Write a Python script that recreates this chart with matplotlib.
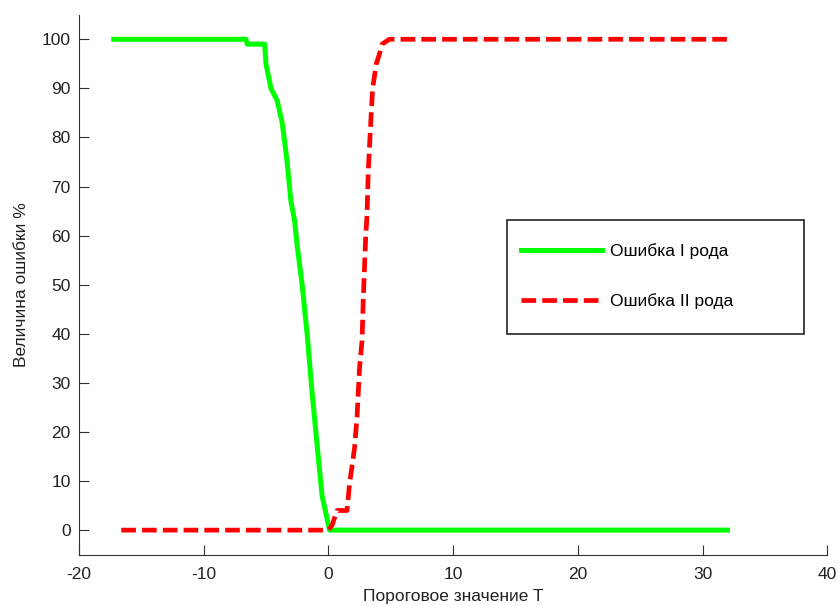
import matplotlib.pyplot as plt
import matplotlib
from matplotlib.patches import Rectangle

matplotlib.rc("font", family=["Liberation Sans", "DejaVu Sans"])
matplotlib.rcParams['axes.unicode_minus'] = False

# Ошибка I рода
x1 = [-17.2, -6.6, -6.5, -5.1, -5.0, -4.6, -4.1, -3.7, -3.3, -3.0, -2.7,
      -2.5, -2.1, -1.7, -1.3, -1.0, -0.5, 0.1, 32]
y1 = [100, 100, 99, 99, 95, 90, 87.5, 83, 75, 67, 63,
      58, 50, 40, 28, 20, 7, 0, 0]

# Ошибка II рода
x2 = [-16.6, 0.0, 0.3, 0.7, 1.5, 1.7, 2.1, 2.3, 2.5, 2.7, 2.8, 3.0,
      3.1, 3.2, 3.4, 3.55, 3.85, 4.1, 4.3, 4.9, 32]
y2 = [0, 0, 1, 4, 4, 9.4, 16.7, 23, 33, 38.5, 47, 60,
      64, 73, 83, 90, 95, 97, 99, 100, 100]

a = 12.5  # размер шрифта
fig = plt.figure(figsize=(8.39, 6.06), dpi=100)
ax = fig.add_axes([0.094, 0.0847, 0.892, 0.891])

ax.plot(x1, y1, color='#00ff00', lw=3.6, label='Ошибка I рода')
ax.plot(x2, y2, color='#ff0000', lw=3.4, ls=(0, (3.1, 1.3)), label='Ошибка II рода')

ax.set_xlim(-20, 40)
ax.set_ylim(-5, 105)
ax.set_xticks(range(-20, 41, 10))
ax.set_yticks(range(0, 101, 10))
ax.spines['top'].set_visible(False)
ax.spines['right'].set_visible(False)
for s in ['left', 'bottom']:
    ax.spines[s].set_color('#333333')
ax.tick_params(direction='in', length=7, color='#333333', labelsize=a, labelcolor='#222222')
ax.tick_params(axis='x', pad=9)
ax.tick_params(axis='y', pad=6)
ax.set_xlabel('Пороговое значение T', size=a, color='#222222', labelpad=5)
ax.set_ylabel('Величина ошибки %', size=a, color='#222222', labelpad=9)

# рамка легенды отдельно, чтобы задать её размер
ax.add_patch(Rectangle((0.572, 0.409), 0.397, 0.211, transform=ax.transAxes,
                       facecolor='white', edgecolor='#222222', lw=1.2, zorder=4))
leg = ax.legend(loc='upper left', bbox_to_anchor=(0.572, 0.603),
                fontsize=a, frameon=False, labelspacing=1.96, borderpad=0.8,
                handlelength=4.7, handletextpad=0.45, borderaxespad=0)
leg.set_zorder(5)

fig.savefig('out.png', dpi=100)
